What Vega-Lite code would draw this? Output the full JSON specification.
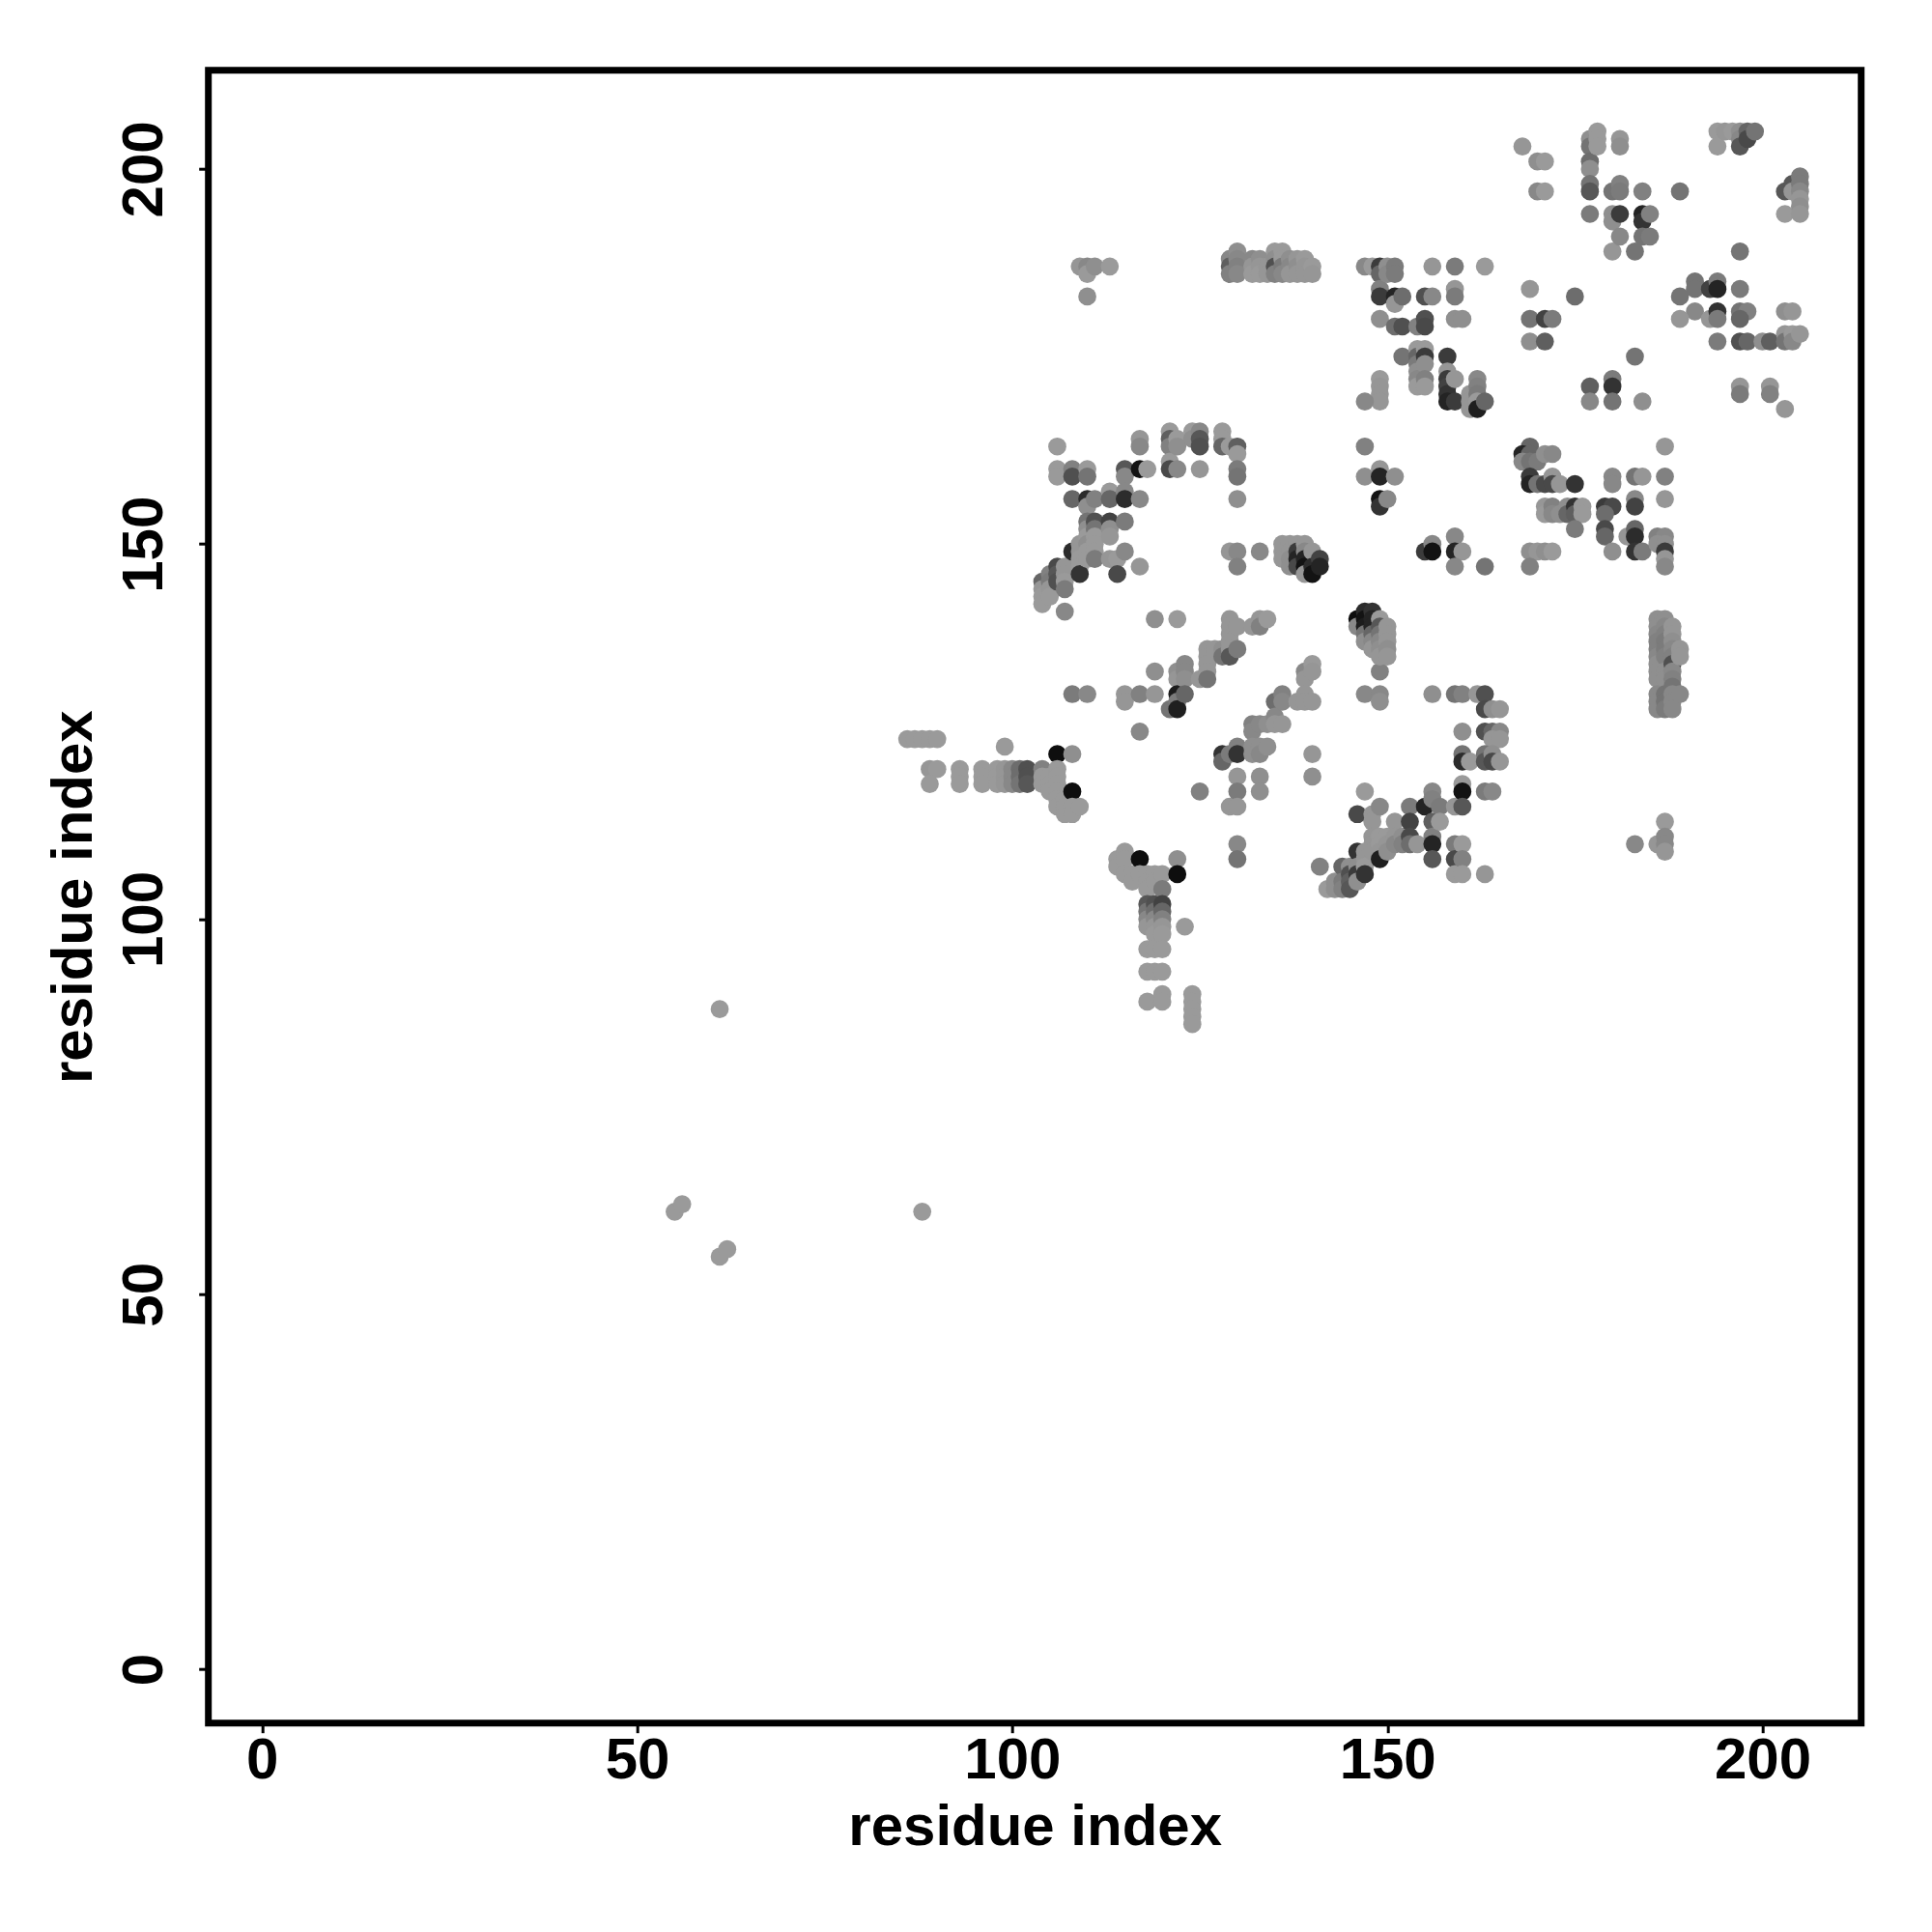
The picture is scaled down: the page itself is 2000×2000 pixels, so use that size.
{"$schema":"https://vega.github.io/schema/vega-lite/v6.json","autosize":{"type":"none"},"padding":{"left":215.7,"top":72.7,"right":73,"bottom":216},"width":1711,"height":1711,"background":"white","config":{"view":{"stroke":"#000000","strokeWidth":7,"fill":"white"}},
"data":{"values":[
{"x":55,"y":61,"p":0.98},{"x":56,"y":62,"p":0.98},{"x":61,"y":55,"p":0.98},{"x":62,"y":56,"p":0.98},{"x":61,"y":88,"p":0.98},{"x":88,"y":61,"p":0.98},
{"x":86,"y":124,"p":0.98},{"x":87,"y":124,"p":0.98},{"x":88,"y":124,"p":0.98},{"x":89,"y":124,"p":0.98},{"x":90,"y":124,"p":0.98},
{"x":89,"y":120,"p":0.95},{"x":90,"y":120,"p":0.98},{"x":89,"y":118,"p":0.98},{"x":93,"y":120,"p":0.98},{"x":93,"y":119,"p":0.98},{"x":93,"y":118,"p":0.98},{"x":96,"y":120,"p":0.98},{"x":96,"y":119,"p":0.98},{"x":96,"y":118,"p":0.98},{"x":98,"y":120,"p":0.98},{"x":98,"y":119,"p":0.98},{"x":98,"y":118,"p":0.98},
{"x":99,"y":123,"p":0.98},{"x":99,"y":120,"p":0.95},{"x":99,"y":119,"p":0.95},{"x":99,"y":118,"p":0.95},{"x":100,"y":120,"p":0.85},{"x":100,"y":119,"p":0.85},{"x":100,"y":118,"p":0.85},{"x":101,"y":120,"p":0.65},{"x":101,"y":119,"p":0.65},{"x":101,"y":118,"p":0.7},{"x":102,"y":120,"p":0.45},{"x":102,"y":119,"p":0.45},{"x":102,"y":118,"p":0.5},
{"x":104,"y":120,"p":0.8},{"x":104,"y":119,"p":0.98},{"x":104,"y":118,"p":0.98},{"x":105,"y":119,"p":0.98},{"x":105,"y":118,"p":0.98},{"x":105,"y":117,"p":0.98},{"x":106,"y":122,"p":0.03},{"x":106,"y":120,"p":0.98},{"x":106,"y":119,"p":0.98},{"x":106,"y":118,"p":0.98},{"x":106,"y":117,"p":0.98},{"x":106,"y":116,"p":0.98},{"x":106,"y":115,"p":0.98},{"x":107,"y":116,"p":0.98},{"x":107,"y":115,"p":0.98},{"x":107,"y":114,"p":0.98},{"x":108,"y":122,"p":0.9},{"x":108,"y":117,"p":0.03},{"x":108,"y":115,"p":0.98},{"x":108,"y":114,"p":0.98},{"x":109,"y":115,"p":0.98},
{"x":114,"y":108,"p":0.98},{"x":114,"y":107,"p":0.98},{"x":115,"y":109,"p":0.98},{"x":115,"y":108,"p":0.98},{"x":115,"y":106,"p":0.98},{"x":116,"y":106,"p":0.98},{"x":116,"y":105,"p":0.98},{"x":117,"y":108,"p":0.03},{"x":117,"y":106,"p":0.98},{"x":118,"y":106,"p":0.98},{"x":118,"y":105,"p":0.98},{"x":118,"y":104,"p":0.98},{"x":118,"y":102,"p":0.5},{"x":118,"y":101,"p":0.7},{"x":118,"y":100,"p":0.85},{"x":118,"y":99,"p":0.95},{"x":118,"y":96,"p":0.98},{"x":118,"y":93,"p":0.98},{"x":118,"y":89,"p":0.98},
{"x":119,"y":106,"p":0.98},{"x":119,"y":105,"p":0.98},{"x":119,"y":102,"p":0.45},{"x":119,"y":101,"p":0.65},{"x":119,"y":100,"p":0.85},{"x":119,"y":99,"p":0.95},{"x":119,"y":98,"p":0.98},{"x":119,"y":96,"p":0.98},{"x":119,"y":93,"p":0.98},{"x":120,"y":106,"p":0.98},{"x":120,"y":104,"p":0.75},{"x":120,"y":102,"p":0.35},{"x":120,"y":101,"p":0.6},{"x":120,"y":100,"p":0.8},{"x":120,"y":99,"p":0.95},{"x":120,"y":98,"p":0.98},{"x":120,"y":96,"p":0.98},{"x":120,"y":93,"p":0.98},{"x":120,"y":90,"p":0.98},{"x":120,"y":89,"p":0.98},
{"x":122,"y":108,"p":0.9},{"x":122,"y":106,"p":0.03},{"x":123,"y":99,"p":0.98},{"x":124,"y":90,"p":0.98},{"x":124,"y":89,"p":0.98},{"x":124,"y":88,"p":0.98},{"x":124,"y":87,"p":0.98},{"x":124,"y":86,"p":0.98},{"x":125,"y":117,"p":0.8},{"x":117,"y":125,"p":0.85},
{"x":128,"y":122,"p":0.25},{"x":128,"y":121,"p":0.6},{"x":129,"y":122,"p":0.75},{"x":129,"y":115,"p":0.95},{"x":130,"y":123,"p":0.8},{"x":130,"y":122,"p":0.25},{"x":130,"y":119,"p":0.95},{"x":130,"y":117,"p":0.75},{"x":130,"y":115,"p":0.95},{"x":130,"y":110,"p":0.85},{"x":130,"y":108,"p":0.7},{"x":132,"y":126,"p":0.8},{"x":132,"y":125,"p":0.85},{"x":132,"y":123,"p":0.9},{"x":132,"y":122,"p":0.9},{"x":133,"y":126,"p":0.85},{"x":133,"y":123,"p":0.9},{"x":133,"y":122,"p":0.85},{"x":133,"y":119,"p":0.9},{"x":134,"y":126,"p":0.9},{"x":134,"y":123,"p":0.9},{"x":135,"y":129,"p":0.65},{"x":135,"y":127,"p":0.85},{"x":135,"y":126,"p":0.95},{"x":136,"y":130,"p":0.8},{"x":136,"y":129,"p":0.85},{"x":136,"y":126,"p":0.95},{"x":138,"y":129,"p":0.95},{"x":139,"y":133,"p":0.85},{"x":139,"y":132,"p":0.95},{"x":139,"y":130,"p":0.95},{"x":139,"y":129,"p":0.95},{"x":140,"y":134,"p":0.98},{"x":140,"y":133,"p":0.95},{"x":140,"y":129,"p":0.95},{"x":140,"y":122,"p":0.95},{"x":140,"y":119,"p":0.9},
{"x":108,"y":130,"p":0.75},{"x":110,"y":130,"p":0.85},{"x":115,"y":130,"p":0.95},{"x":115,"y":129,"p":0.95},{"x":117,"y":130,"p":0.8},{"x":119,"y":133,"p":0.9},{"x":119,"y":130,"p":0.95},{"x":121,"y":128,"p":0.7},{"x":122,"y":133,"p":0.9},{"x":122,"y":132,"p":0.95},{"x":122,"y":130,"p":0.1},{"x":122,"y":129,"p":0.75},{"x":122,"y":128,"p":0.12},{"x":123,"y":134,"p":0.85},{"x":123,"y":133,"p":0.85},{"x":123,"y":132,"p":0.9},{"x":123,"y":130,"p":0.6},{"x":125,"y":132,"p":0.95},{"x":126,"y":136,"p":0.95},{"x":126,"y":135,"p":0.95},{"x":126,"y":134,"p":0.95},{"x":126,"y":133,"p":0.95},{"x":126,"y":132,"p":0.7},{"x":127,"y":136,"p":0.95},{"x":128,"y":136,"p":0.9},{"x":128,"y":135,"p":0.7},{"x":129,"y":140,"p":0.95},{"x":129,"y":139,"p":0.95},{"x":129,"y":138,"p":0.95},{"x":129,"y":137,"p":0.95},{"x":129,"y":136,"p":0.95},{"x":129,"y":135,"p":0.5},{"x":130,"y":139,"p":0.95},{"x":130,"y":136,"p":0.75},{"x":132,"y":139,"p":0.95},{"x":133,"y":140,"p":0.95},{"x":133,"y":139,"p":0.8},{"x":134,"y":140,"p":0.98},{"x":119,"y":140,"p":0.9},{"x":122,"y":140,"p":0.98},
{"x":104,"y":145,"p":0.6},{"x":104,"y":144,"p":0.95},{"x":104,"y":143,"p":0.98},{"x":104,"y":142,"p":0.98},{"x":105,"y":146,"p":0.8},{"x":105,"y":145,"p":0.75},{"x":105,"y":144,"p":0.95},{"x":105,"y":143,"p":0.98},{"x":106,"y":163,"p":0.98},{"x":106,"y":160,"p":0.98},{"x":106,"y":159,"p":0.98},{"x":106,"y":147,"p":0.4},{"x":106,"y":146,"p":0.5},{"x":106,"y":145,"p":0.45},{"x":107,"y":147,"p":0.95},{"x":107,"y":146,"p":0.95},{"x":107,"y":145,"p":0.98},{"x":107,"y":144,"p":0.75},{"x":107,"y":141,"p":0.85},{"x":108,"y":160,"p":0.8},{"x":108,"y":159,"p":0.45},{"x":108,"y":156,"p":0.6},{"x":108,"y":149,"p":0.2},{"x":109,"y":150,"p":0.95},{"x":109,"y":149,"p":0.95},{"x":109,"y":148,"p":0.98},{"x":109,"y":147,"p":0.98},{"x":109,"y":146,"p":0.25},
{"x":110,"y":160,"p":0.98},{"x":110,"y":159,"p":0.7},{"x":110,"y":156,"p":0.2},{"x":110,"y":155,"p":0.9},{"x":110,"y":153,"p":0.7},{"x":110,"y":152,"p":0.9},{"x":110,"y":151,"p":0.98},{"x":110,"y":150,"p":0.9},{"x":110,"y":149,"p":0.98},{"x":110,"y":148,"p":0.98},{"x":111,"y":156,"p":0.8},{"x":111,"y":153,"p":0.45},{"x":111,"y":152,"p":0.7},{"x":111,"y":151,"p":0.98},{"x":111,"y":150,"p":0.98},{"x":111,"y":149,"p":0.98},{"x":111,"y":148,"p":0.75},{"x":113,"y":157,"p":0.98},{"x":113,"y":156,"p":0.6},{"x":113,"y":153,"p":0.35},{"x":113,"y":152,"p":0.9},{"x":113,"y":151,"p":0.95},{"x":113,"y":148,"p":0.95},{"x":114,"y":148,"p":0.98},{"x":114,"y":146,"p":0.4},{"x":115,"y":160,"p":0.5},{"x":115,"y":159,"p":0.85},{"x":115,"y":157,"p":0.85},{"x":115,"y":156,"p":0.2},{"x":115,"y":153,"p":0.75},{"x":115,"y":149,"p":0.85},{"x":117,"y":164,"p":0.95},{"x":117,"y":163,"p":0.85},{"x":117,"y":160,"p":0.05},{"x":117,"y":156,"p":0.85},{"x":117,"y":147,"p":0.95},{"x":118,"y":160,"p":0.98},
{"x":121,"y":165,"p":0.98},{"x":121,"y":164,"p":0.55},{"x":121,"y":163,"p":0.8},{"x":121,"y":161,"p":0.98},{"x":121,"y":160,"p":0.4},{"x":122,"y":164,"p":0.98},{"x":122,"y":163,"p":0.9},{"x":122,"y":160,"p":0.85},{"x":124,"y":165,"p":0.98},{"x":124,"y":164,"p":0.9},{"x":125,"y":165,"p":0.85},{"x":125,"y":164,"p":0.5},{"x":125,"y":163,"p":0.45},{"x":125,"y":160,"p":0.95},{"x":128,"y":165,"p":0.98},{"x":128,"y":164,"p":0.98},{"x":128,"y":163,"p":0.6},{"x":129,"y":163,"p":0.98},{"x":130,"y":163,"p":0.55},{"x":130,"y":162,"p":0.98},{"x":130,"y":160,"p":0.75},{"x":130,"y":159,"p":0.7},{"x":130,"y":156,"p":0.9},
{"x":109,"y":187,"p":0.95},{"x":110,"y":187,"p":0.85},{"x":110,"y":186,"p":0.98},{"x":110,"y":183,"p":0.9},{"x":111,"y":187,"p":0.9},{"x":113,"y":187,"p":0.98},
{"x":129,"y":188,"p":0.85},{"x":129,"y":187,"p":0.55},{"x":129,"y":186,"p":0.8},{"x":130,"y":189,"p":0.9},{"x":130,"y":188,"p":0.85},{"x":130,"y":187,"p":0.8},{"x":130,"y":186,"p":0.85},{"x":132,"y":188,"p":0.85},{"x":132,"y":187,"p":0.95},{"x":132,"y":186,"p":0.98},{"x":133,"y":188,"p":0.9},{"x":133,"y":187,"p":0.95},{"x":133,"y":186,"p":0.98},{"x":134,"y":187,"p":0.95},{"x":134,"y":186,"p":0.95},{"x":135,"y":189,"p":0.98},{"x":135,"y":188,"p":0.9},{"x":135,"y":187,"p":0.45},{"x":135,"y":186,"p":0.8},{"x":136,"y":189,"p":0.98},{"x":136,"y":188,"p":0.98},{"x":136,"y":187,"p":0.75},{"x":136,"y":186,"p":0.85},{"x":137,"y":188,"p":0.9},{"x":137,"y":187,"p":0.85},{"x":137,"y":186,"p":0.95},{"x":138,"y":188,"p":0.95},{"x":138,"y":187,"p":0.9},{"x":138,"y":186,"p":0.95},{"x":139,"y":188,"p":0.98},{"x":139,"y":187,"p":0.95},{"x":139,"y":186,"p":0.95},{"x":140,"y":187,"p":0.98},{"x":140,"y":186,"p":0.95},
{"x":129,"y":149,"p":0.95},{"x":130,"y":149,"p":0.85},{"x":130,"y":147,"p":0.8},{"x":133,"y":149,"p":0.85},{"x":136,"y":150,"p":0.95},{"x":136,"y":149,"p":0.95},{"x":136,"y":148,"p":0.95},{"x":137,"y":150,"p":0.95},{"x":137,"y":149,"p":0.95},{"x":137,"y":148,"p":0.9},{"x":137,"y":147,"p":0.9},{"x":138,"y":150,"p":0.95},{"x":138,"y":149,"p":0.3},{"x":138,"y":148,"p":0.15},{"x":138,"y":147,"p":0.4},{"x":139,"y":150,"p":0.95},{"x":139,"y":149,"p":0.85},{"x":139,"y":148,"p":0.15},{"x":139,"y":147,"p":0.05},{"x":139,"y":146,"p":0.95},{"x":140,"y":149,"p":0.95},{"x":140,"y":147,"p":0.2},{"x":140,"y":146,"p":0.05},{"x":141,"y":148,"p":0.35},{"x":141,"y":147,"p":0.15},
{"x":141,"y":107,"p":0.8},{"x":142,"y":104,"p":0.98},{"x":143,"y":105,"p":0.9},{"x":143,"y":104,"p":0.9},{"x":144,"y":107,"p":0.6},{"x":144,"y":105,"p":0.75},{"x":144,"y":104,"p":0.8},{"x":145,"y":107,"p":0.9},{"x":145,"y":106,"p":0.45},{"x":145,"y":105,"p":0.55},{"x":145,"y":104,"p":0.5},{"x":146,"y":114,"p":0.4},{"x":146,"y":109,"p":0.25},{"x":146,"y":107,"p":0.9},{"x":146,"y":106,"p":0.3},{"x":146,"y":105,"p":0.9},{"x":147,"y":130,"p":0.85},{"x":147,"y":117,"p":0.98},{"x":147,"y":109,"p":0.95},{"x":147,"y":108,"p":0.95},{"x":147,"y":107,"p":0.98},{"x":147,"y":106,"p":0.25},{"x":148,"y":114,"p":0.95},{"x":148,"y":113,"p":0.95},{"x":148,"y":111,"p":0.95},{"x":148,"y":110,"p":0.95},{"x":148,"y":109,"p":0.95},{"x":149,"y":133,"p":0.8},{"x":149,"y":130,"p":0.85},{"x":149,"y":129,"p":0.9},{"x":149,"y":115,"p":0.85},{"x":149,"y":111,"p":0.98},{"x":149,"y":110,"p":0.98},{"x":149,"y":109,"p":0.95},{"x":149,"y":108,"p":0.12},{"x":150,"y":111,"p":0.98},{"x":150,"y":110,"p":0.95},{"x":150,"y":109,"p":0.9},{"x":151,"y":113,"p":0.95},{"x":151,"y":111,"p":0.95},{"x":151,"y":110,"p":0.85},{"x":152,"y":111,"p":0.9},{"x":152,"y":110,"p":0.8},{"x":153,"y":115,"p":0.75},{"x":153,"y":113,"p":0.35},{"x":153,"y":111,"p":0.4},{"x":153,"y":110,"p":0.65},{"x":154,"y":110,"p":0.95},{"x":155,"y":115,"p":0.15},{"x":156,"y":117,"p":0.85},{"x":156,"y":116,"p":0.8},{"x":156,"y":113,"p":0.55},{"x":156,"y":111,"p":0.8},{"x":156,"y":110,"p":0.15},{"x":156,"y":108,"p":0.5},{"x":157,"y":115,"p":0.75},{"x":157,"y":113,"p":0.98},{"x":159,"y":115,"p":0.95},{"x":159,"y":110,"p":0.75},{"x":159,"y":108,"p":0.4},{"x":159,"y":106,"p":0.98},{"x":160,"y":118,"p":0.98},{"x":160,"y":117,"p":0.05},{"x":160,"y":115,"p":0.5},{"x":160,"y":110,"p":0.98},{"x":160,"y":108,"p":0.8},{"x":160,"y":106,"p":0.98},{"x":163,"y":117,"p":0.75},{"x":164,"y":117,"p":0.85},{"x":163,"y":106,"p":0.95},{"x":183,"y":110,"p":0.85},{"x":186,"y":110,"p":0.95},{"x":187,"y":113,"p":0.98},{"x":187,"y":111,"p":0.85},{"x":187,"y":110,"p":0.85},{"x":187,"y":109,"p":0.95},
{"x":146,"y":140,"p":0.03},{"x":146,"y":139,"p":0.85},{"x":147,"y":141,"p":0.2},{"x":147,"y":140,"p":0.05},{"x":147,"y":139,"p":0.1},{"x":147,"y":138,"p":0.7},{"x":147,"y":137,"p":0.9},{"x":148,"y":141,"p":0.25},{"x":148,"y":140,"p":0.15},{"x":148,"y":139,"p":0.15},{"x":148,"y":138,"p":0.6},{"x":148,"y":137,"p":0.85},{"x":148,"y":136,"p":0.95},{"x":149,"y":140,"p":0.98},{"x":149,"y":139,"p":0.5},{"x":149,"y":138,"p":0.7},{"x":149,"y":137,"p":0.85},{"x":149,"y":136,"p":0.9},{"x":149,"y":135,"p":0.95},{"x":150,"y":139,"p":0.95},{"x":150,"y":138,"p":0.95},{"x":150,"y":137,"p":0.95},{"x":150,"y":136,"p":0.9},{"x":150,"y":135,"p":0.95},
{"x":147,"y":187,"p":0.85},{"x":148,"y":187,"p":0.98},{"x":149,"y":187,"p":0.3},{"x":149,"y":186,"p":0.6},{"x":149,"y":184,"p":0.8},{"x":149,"y":183,"p":0.3},{"x":149,"y":180,"p":0.9},{"x":149,"y":172,"p":0.98},{"x":149,"y":171,"p":0.95},{"x":149,"y":170,"p":0.95},{"x":149,"y":169,"p":0.95},{"x":147,"y":169,"p":0.85},{"x":150,"y":187,"p":0.9},{"x":150,"y":186,"p":0.85},{"x":151,"y":187,"p":0.75},{"x":151,"y":186,"p":0.75},{"x":151,"y":183,"p":0.15},{"x":151,"y":182,"p":0.95},{"x":151,"y":179,"p":0.65},{"x":152,"y":183,"p":0.65},{"x":152,"y":179,"p":0.45},{"x":152,"y":175,"p":0.7},{"x":154,"y":179,"p":0.8},{"x":154,"y":176,"p":0.98},{"x":154,"y":175,"p":0.6},{"x":154,"y":174,"p":0.75},{"x":154,"y":173,"p":0.9},{"x":154,"y":172,"p":0.85},{"x":154,"y":171,"p":0.98},{"x":155,"y":183,"p":0.45},{"x":155,"y":180,"p":0.45},{"x":155,"y":179,"p":0.4},{"x":155,"y":176,"p":0.98},{"x":155,"y":175,"p":0.3},{"x":155,"y":174,"p":0.9},{"x":155,"y":172,"p":0.8},{"x":155,"y":171,"p":0.98},{"x":156,"y":187,"p":0.95},{"x":156,"y":183,"p":0.85},{"x":158,"y":175,"p":0.3},{"x":158,"y":173,"p":0.95},{"x":158,"y":172,"p":0.3},{"x":158,"y":171,"p":0.35},{"x":158,"y":170,"p":0.25},{"x":158,"y":169,"p":0.15},{"x":159,"y":187,"p":0.75},{"x":159,"y":184,"p":0.95},{"x":159,"y":183,"p":0.75},{"x":159,"y":180,"p":0.9},{"x":159,"y":172,"p":0.95},{"x":159,"y":169,"p":0.3},{"x":160,"y":180,"p":0.9},{"x":161,"y":170,"p":0.95},{"x":161,"y":169,"p":0.95},{"x":161,"y":168,"p":0.95},{"x":162,"y":172,"p":0.85},{"x":162,"y":171,"p":0.8},{"x":162,"y":170,"p":0.75},{"x":162,"y":169,"p":0.98},{"x":162,"y":168,"p":0.12},{"x":163,"y":187,"p":0.98},{"x":163,"y":169,"p":0.6},
{"x":147,"y":163,"p":0.8},{"x":147,"y":159,"p":0.9},{"x":149,"y":160,"p":0.95},{"x":149,"y":159,"p":0.15},{"x":149,"y":156,"p":0.05},{"x":149,"y":155,"p":0.25},{"x":150,"y":156,"p":0.85},{"x":151,"y":159,"p":0.9},
{"x":155,"y":149,"p":0.3},{"x":156,"y":150,"p":0.85},{"x":156,"y":149,"p":0.05},{"x":159,"y":151,"p":0.85},{"x":159,"y":149,"p":0.15},{"x":160,"y":149,"p":0.95},{"x":159,"y":147,"p":0.85},{"x":163,"y":147,"p":0.7},
{"x":156,"y":130,"p":0.9},{"x":159,"y":130,"p":0.7},{"x":160,"y":130,"p":0.8},{"x":162,"y":130,"p":0.95},{"x":163,"y":130,"p":0.45},{"x":163,"y":128,"p":0.4},{"x":164,"y":128,"p":0.9},{"x":165,"y":128,"p":0.95},{"x":160,"y":125,"p":0.9},{"x":163,"y":125,"p":0.45},{"x":164,"y":125,"p":0.6},{"x":165,"y":125,"p":0.85},{"x":164,"y":124,"p":0.95},{"x":165,"y":124,"p":0.95},{"x":160,"y":122,"p":0.7},{"x":160,"y":121,"p":0.2},{"x":161,"y":121,"p":0.98},{"x":163,"y":122,"p":0.7},{"x":163,"y":121,"p":0.5},{"x":164,"y":122,"p":0.9},{"x":164,"y":121,"p":0.4},{"x":165,"y":121,"p":0.95},{"x":133,"y":117,"p":0.9},
{"x":186,"y":140,"p":0.9},{"x":186,"y":139,"p":0.9},{"x":186,"y":138,"p":0.85},{"x":186,"y":137,"p":0.8},{"x":186,"y":136,"p":0.8},{"x":186,"y":135,"p":0.85},{"x":186,"y":134,"p":0.9},{"x":186,"y":133,"p":0.9},{"x":186,"y":132,"p":0.9},{"x":186,"y":130,"p":0.85},{"x":186,"y":129,"p":0.85},{"x":186,"y":128,"p":0.85},{"x":187,"y":140,"p":0.9},{"x":187,"y":139,"p":0.85},{"x":187,"y":138,"p":0.8},{"x":187,"y":137,"p":0.75},{"x":187,"y":136,"p":0.75},{"x":187,"y":135,"p":0.8},{"x":187,"y":133,"p":0.9},{"x":187,"y":132,"p":0.9},{"x":187,"y":130,"p":0.7},{"x":187,"y":129,"p":0.7},{"x":187,"y":128,"p":0.75},{"x":188,"y":139,"p":0.95},{"x":188,"y":138,"p":0.95},{"x":188,"y":137,"p":0.9},{"x":188,"y":136,"p":0.85},{"x":188,"y":135,"p":0.8},{"x":188,"y":134,"p":0.45},{"x":188,"y":133,"p":0.85},{"x":188,"y":132,"p":0.8},{"x":188,"y":131,"p":0.7},{"x":188,"y":130,"p":0.85},{"x":188,"y":129,"p":0.85},{"x":188,"y":128,"p":0.85},{"x":189,"y":136,"p":0.95},{"x":189,"y":135,"p":0.95},{"x":189,"y":130,"p":0.85},
{"x":168,"y":203,"p":0.95},{"x":170,"y":201,"p":0.9},{"x":171,"y":201,"p":0.98},{"x":170,"y":197,"p":0.85},{"x":171,"y":197,"p":0.98},{"x":177,"y":204,"p":0.9},{"x":177,"y":203,"p":0.7},{"x":177,"y":201,"p":0.65},{"x":177,"y":200,"p":0.9},{"x":177,"y":198,"p":0.7},{"x":177,"y":197,"p":0.5},{"x":177,"y":194,"p":0.75},{"x":178,"y":205,"p":0.98},{"x":178,"y":204,"p":0.98},{"x":178,"y":203,"p":0.98},{"x":180,"y":197,"p":0.7},{"x":180,"y":194,"p":0.9},{"x":180,"y":193,"p":0.9},{"x":180,"y":189,"p":0.95},{"x":181,"y":204,"p":0.95},{"x":181,"y":203,"p":0.9},{"x":181,"y":198,"p":0.8},{"x":181,"y":197,"p":0.75},{"x":181,"y":194,"p":0.3},{"x":181,"y":191,"p":0.85},{"x":183,"y":189,"p":0.7},{"x":184,"y":197,"p":0.8},{"x":184,"y":194,"p":0.15},{"x":184,"y":193,"p":0.25},{"x":184,"y":191,"p":0.7},{"x":185,"y":194,"p":0.8},{"x":185,"y":191,"p":0.75},{"x":189,"y":197,"p":0.7},
{"x":194,"y":205,"p":0.98},{"x":194,"y":203,"p":0.98},{"x":195,"y":205,"p":0.95},{"x":196,"y":205,"p":0.98},{"x":197,"y":205,"p":0.9},{"x":197,"y":204,"p":0.85},{"x":197,"y":203,"p":0.5},{"x":198,"y":205,"p":0.6},{"x":198,"y":204,"p":0.4},{"x":199,"y":205,"p":0.7},{"x":203,"y":197,"p":0.5},{"x":203,"y":194,"p":0.98},{"x":204,"y":198,"p":0.5},{"x":204,"y":197,"p":0.95},{"x":205,"y":199,"p":0.75},{"x":205,"y":198,"p":0.75},{"x":205,"y":197,"p":0.85},{"x":205,"y":196,"p":0.95},{"x":205,"y":195,"p":0.9},{"x":205,"y":194,"p":0.95},
{"x":197,"y":189,"p":0.7},{"x":169,"y":184,"p":0.95},{"x":175,"y":183,"p":0.65},{"x":169,"y":180,"p":0.7},{"x":171,"y":180,"p":0.35},{"x":172,"y":180,"p":0.75},{"x":169,"y":177,"p":0.9},{"x":171,"y":177,"p":0.55},{"x":183,"y":175,"p":0.7},
{"x":191,"y":185,"p":0.7},{"x":191,"y":184,"p":0.7},{"x":189,"y":183,"p":0.7},{"x":193,"y":184,"p":0.35},{"x":194,"y":185,"p":0.75},{"x":194,"y":184,"p":0.15},{"x":197,"y":184,"p":0.75},{"x":191,"y":181,"p":0.85},{"x":189,"y":180,"p":0.95},{"x":193,"y":180,"p":0.95},{"x":194,"y":181,"p":0.25},{"x":194,"y":180,"p":0.75},{"x":197,"y":181,"p":0.7},{"x":198,"y":181,"p":0.8},{"x":197,"y":180,"p":0.6},{"x":203,"y":181,"p":0.9},{"x":204,"y":181,"p":0.95},{"x":194,"y":177,"p":0.75},{"x":197,"y":177,"p":0.45},{"x":198,"y":177,"p":0.6},{"x":200,"y":177,"p":0.9},{"x":201,"y":177,"p":0.55},{"x":203,"y":178,"p":0.95},{"x":203,"y":177,"p":0.7},{"x":204,"y":178,"p":0.98},{"x":204,"y":177,"p":0.85},{"x":205,"y":178,"p":0.95},
{"x":197,"y":171,"p":0.95},{"x":197,"y":170,"p":0.75},{"x":201,"y":171,"p":0.95},{"x":201,"y":170,"p":0.8},{"x":203,"y":168,"p":0.95},{"x":177,"y":171,"p":0.55},{"x":177,"y":169,"p":0.85},{"x":180,"y":172,"p":0.75},{"x":180,"y":171,"p":0.25},{"x":180,"y":169,"p":0.7},{"x":184,"y":169,"p":0.9},
{"x":169,"y":163,"p":0.6},{"x":168,"y":162,"p":0.15},{"x":169,"y":162,"p":0.6},{"x":168,"y":161,"p":0.85},{"x":169,"y":161,"p":0.7},{"x":170,"y":161,"p":0.75},{"x":171,"y":162,"p":0.9},{"x":172,"y":162,"p":0.85},{"x":169,"y":159,"p":0.3},{"x":169,"y":158,"p":0.15},{"x":170,"y":158,"p":0.7},{"x":171,"y":158,"p":0.4},{"x":172,"y":159,"p":0.95},{"x":172,"y":158,"p":0.4},{"x":173,"y":158,"p":0.95},{"x":175,"y":158,"p":0.25},{"x":180,"y":159,"p":0.85},{"x":180,"y":158,"p":0.85},{"x":183,"y":159,"p":0.7},{"x":184,"y":159,"p":0.95},{"x":187,"y":163,"p":0.95},{"x":187,"y":159,"p":0.8},{"x":187,"y":156,"p":0.95},{"x":183,"y":156,"p":0.85},{"x":183,"y":155,"p":0.35},
{"x":171,"y":155,"p":0.95},{"x":171,"y":154,"p":0.98},{"x":172,"y":155,"p":0.8},{"x":172,"y":154,"p":0.85},{"x":173,"y":154,"p":0.9},{"x":174,"y":155,"p":0.9},{"x":174,"y":154,"p":0.6},{"x":175,"y":155,"p":0.25},{"x":175,"y":154,"p":0.55},{"x":176,"y":155,"p":0.98},{"x":176,"y":154,"p":0.98},{"x":175,"y":152,"p":0.75},{"x":179,"y":155,"p":0.3},{"x":180,"y":155,"p":0.4},{"x":179,"y":154,"p":0.65},{"x":179,"y":152,"p":0.4},{"x":179,"y":151,"p":0.6},{"x":180,"y":149,"p":0.9},{"x":182,"y":151,"p":0.95},{"x":183,"y":152,"p":0.6},{"x":183,"y":151,"p":0.2},{"x":183,"y":149,"p":0.25},{"x":184,"y":149,"p":0.75},{"x":186,"y":151,"p":0.8},{"x":187,"y":151,"p":0.85},{"x":186,"y":150,"p":0.9},{"x":187,"y":150,"p":0.9},{"x":187,"y":149,"p":0.3},{"x":187,"y":148,"p":0.95},{"x":187,"y":147,"p":0.85},{"x":169,"y":149,"p":0.9},{"x":170,"y":149,"p":0.95},{"x":171,"y":149,"p":0.9},{"x":172,"y":149,"p":0.98},{"x":169,"y":147,"p":0.8}
]},
"mark":{"type":"point","shape":"circle","filled":true,"opacity":1,"size":350,"clip":true},
"encoding":{
"x":{"field":"x","type":"quantitative","scale":{"domain":[-7.16,213.16],"nice":false,"zero":false},"axis":{"values":[0,50,100,150,200],"title":"residue index","grid":false,"domain":false,"tickColor":"#000000","tickWidth":3,"tickSize":10,"labelFont":"Liberation Sans","labelFontWeight":"bold","labelFontSize":60,"labelColor":"#000000","labelPadding":0,"labelFlush":false,"titleFont":"Liberation Sans","titleFontWeight":"bold","titleFontSize":60,"titleColor":"#000000","titlePadding":10}},
"y":{"field":"y","type":"quantitative","scale":{"domain":[-7.16,213.16],"nice":false,"zero":false},"axis":{"values":[0,50,100,150,200],"title":"residue index","grid":false,"domain":false,"tickColor":"#000000","tickWidth":3,"tickSize":10,"labelFont":"Liberation Sans","labelFontWeight":"bold","labelFontSize":60,"labelColor":"#000000","labelAngle":270,"labelAlign":"center","labelBaseline":"bottom","labelPadding":25,"titleFont":"Liberation Sans","titleFontWeight":"bold","titleFontSize":60,"titleColor":"#000000","titlePadding":12}},
"color":{"field":"p","type":"quantitative","scale":{"type":"pow","exponent":0.8,"domain":[0,1],"range":["#000000","#9d9d9d"]},"legend":null},
"order":[{"field":"x","type":"quantitative"},{"field":"y","type":"quantitative"}]
}}
